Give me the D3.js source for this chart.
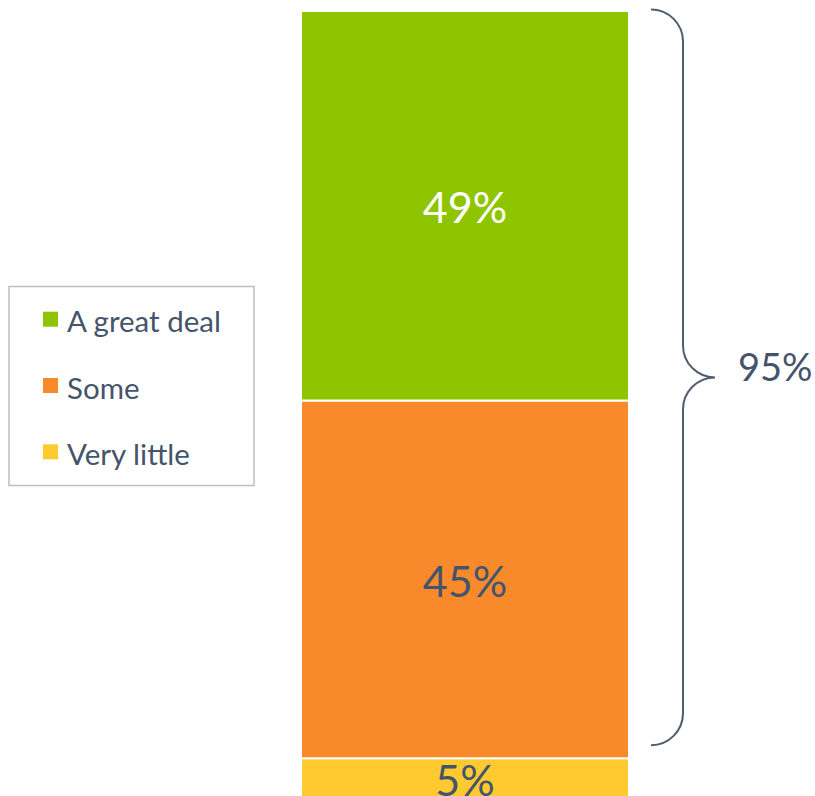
<!DOCTYPE html>
<html>
<head>
<meta charset="utf-8">
<script src="https://cdn.jsdelivr.net/npm/d3@7"></script>
<style>
  html, body { margin: 0; padding: 0; background: #fff; }
  svg { display: block; }
  text { font-family: Lato, "Open Sans", sans-serif; }
</style>
</head>
<body>
<svg id="chart" width="815" height="796"></svg>
<script>
// Share of respondents by answer
const categories = ["A great deal", "Some", "Very little"];
const values = [49, 45, 5];
const colors = ["#8fc400", "#f98a2c", "#ffc930"];
const labelColors = ["#ffffff", "#44546a", "#44546a"];
const braceLabel = "95%";

const svg = d3.select("#chart");
const ink = "#44546a";

// Stack the segments from the bottom up
const stackData = [{}];
categories.forEach((c, i) => { stackData[0][c] = values[i]; });
const stack = d3.stack().keys(categories.slice().reverse())(stackData);
const total = d3.sum(values);

const x = d3.scaleBand().domain(["bar"]).range([301, 629]).paddingInner(0).paddingOuter(0);
const y = d3.scaleLinear().domain([0, total]).range([798, 11]);

const seg = svg.append("g").selectAll("g")
  .data(stack)
  .join("g");

seg.append("rect")
  .attr("x", x("bar"))
  .attr("width", x.bandwidth())
  .attr("y", d => y(d[0][1]))
  .attr("height", d => y(d[0][0]) - y(d[0][1]))
  .attr("fill", d => colors[categories.indexOf(d.key)])
  .attr("stroke", "#ffffff")
  .attr("stroke-width", 2);

seg.append("text")
  .attr("x", x("bar") + x.bandwidth() / 2)
  .attr("y", d => (y(d[0][0]) + y(d[0][1])) / 2 + 17.5)
  .attr("text-anchor", "middle")
  .attr("font-size", 43)
  .attr("fill", d => labelColors[categories.indexOf(d.key)])
  .text(d => values[categories.indexOf(d.key)] + "%");

// Curly brace grouping the top two answers
const bTop = y(total) - 1.5;
const bBot = y(values[2]) - 13;
const bMid = (bTop + bBot) / 2;
const bx0 = 651, bx1 = 683, bx2 = 715, r = 32;
const brace = d3.path();
brace.moveTo(bx0, bTop);
brace.arcTo(bx1, bTop, bx1, bTop + r, r);
brace.lineTo(bx1, bMid - r);
brace.arcTo(bx1, bMid, bx2, bMid, r);
brace.arcTo(bx1, bMid, bx1, bMid + r, r);
brace.lineTo(bx1, bBot - r);
brace.arcTo(bx1, bBot, bx0, bBot, r);
svg.append("path")
  .attr("d", brace.toString())
  .attr("fill", "none")
  .attr("stroke", "#4f5d6e")
  .attr("stroke-width", 2);

svg.append("text")
  .attr("x", 738)
  .attr("y", bMid + 4)
  .attr("font-size", 38)
  .attr("fill", ink)
  .text(braceLabel);

// Legend
const legend = svg.append("g");
legend.append("rect")
  .attr("x", 9).attr("y", 286.5)
  .attr("width", 245).attr("height", 199)
  .attr("fill", "#fff")
  .attr("stroke", "#bfbfbf")
  .attr("stroke-width", 1.5);

const ly = d3.scalePoint().domain(categories).range([311.7, 444.3]);
const items = legend.selectAll("g.item")
  .data(categories)
  .join("g")
  .attr("class", "item");
items.append("rect")
  .attr("x", 43).attr("y", d => ly(d))
  .attr("width", 15).attr("height", 15)
  .attr("fill", (d, i) => colors[i]);
items.append("text")
  .attr("x", 67).attr("y", d => ly(d) + 20.5)
  .attr("font-size", 29.5)
  .attr("fill", ink)
  .text(d => d);
</script>
</body>
</html>
